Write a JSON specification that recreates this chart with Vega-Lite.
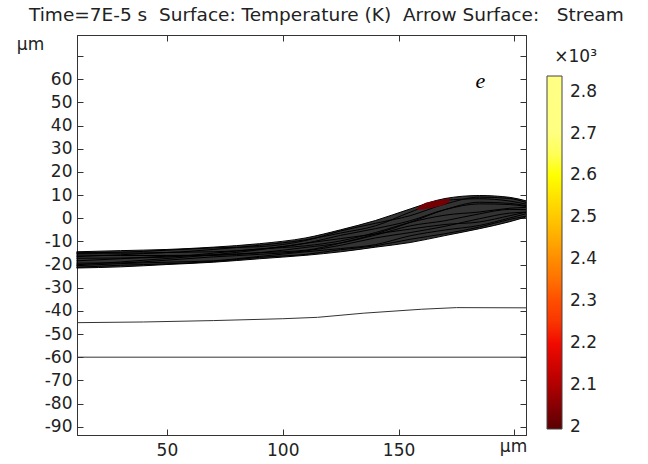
{
  "$schema": "https://vega.github.io/schema/vega-lite/v6.json",
  "width": 449,
  "height": 400,
  "autosize": {"type": "none"},
  "padding": {"left": 77, "top": 35, "right": 122, "bottom": 29},
  "background": "white",
  "title": {
    "text": "Time=7E-5 s\u00a0\u00a0Surface: Temperature (K)\u00a0\u00a0Arrow Surface:\u00a0\u00a0\u00a0Stream",
    "anchor": "start",
    "frame": "group",
    "dx": -48,
    "offset": -9,
    "baseline": "bottom",
    "font": "DejaVu Sans",
    "fontSize": 18.5,
    "fontWeight": "normal",
    "color": "#222"
  },
  "datasets": {
    "band": [
      {"x": 11, "y": -21.5, "y2": -14.5},
      {"x": 30, "y": -21, "y2": -14},
      {"x": 50, "y": -20, "y2": -13.5},
      {"x": 70, "y": -19, "y2": -12.5},
      {"x": 90, "y": -17.5, "y2": -11},
      {"x": 110, "y": -16, "y2": -8.5},
      {"x": 125, "y": -14.5, "y2": -5},
      {"x": 140, "y": -12.5, "y2": -1},
      {"x": 155, "y": -10.5, "y2": 4},
      {"x": 170, "y": -7.5, "y2": 8.5},
      {"x": 185, "y": -4.5, "y2": 9.8},
      {"x": 198, "y": -1.5, "y2": 9},
      {"x": 205, "y": 0.5, "y2": 7.5}
    ],
    "streams": [
      {"s": "a", "x": 11, "y": -14.5}, {"s": "a", "x": 30, "y": -14}, {"s": "a", "x": 50, "y": -13.5}, {"s": "a", "x": 70, "y": -12.5}, {"s": "a", "x": 90, "y": -11}, {"s": "a", "x": 110, "y": -8.5}, {"s": "a", "x": 125, "y": -5}, {"s": "a", "x": 140, "y": -1}, {"s": "a", "x": 155, "y": 4}, {"s": "a", "x": 170, "y": 8.5}, {"s": "a", "x": 185, "y": 9.8}, {"s": "a", "x": 198, "y": 9}, {"s": "a", "x": 205, "y": 7.5},
      {"s": "b", "x": 11, "y": -21.5}, {"s": "b", "x": 30, "y": -21}, {"s": "b", "x": 50, "y": -20}, {"s": "b", "x": 70, "y": -19}, {"s": "b", "x": 90, "y": -17.5}, {"s": "b", "x": 110, "y": -16}, {"s": "b", "x": 125, "y": -14.5}, {"s": "b", "x": 140, "y": -12.5}, {"s": "b", "x": 155, "y": -10.5}, {"s": "b", "x": 170, "y": -7.5}, {"s": "b", "x": 185, "y": -4.5}, {"s": "b", "x": 198, "y": -1.5}, {"s": "b", "x": 205, "y": 0.5},
      {"s": "c", "x": 11, "y": -15.2}, {"s": "c", "x": 30, "y": -15.1}, {"s": "c", "x": 50, "y": -14.8}, {"s": "c", "x": 70, "y": -13.5}, {"s": "c", "x": 90, "y": -11.7}, {"s": "c", "x": 110, "y": -9.3}, {"s": "c", "x": 125, "y": -6.4}, {"s": "c", "x": 140, "y": -3.3}, {"s": "c", "x": 155, "y": 2.6}, {"s": "c", "x": 170, "y": 7.7}, {"s": "c", "x": 185, "y": 8.4}, {"s": "c", "x": 198, "y": 7.4}, {"s": "c", "x": 205, "y": 6.1},
      {"s": "d", "x": 11, "y": -16.6}, {"s": "d", "x": 30, "y": -15.8}, {"s": "d", "x": 50, "y": -14.8}, {"s": "d", "x": 70, "y": -14.5}, {"s": "d", "x": 90, "y": -13.3}, {"s": "d", "x": 110, "y": -10.8}, {"s": "d", "x": 125, "y": -7.4}, {"s": "d", "x": 140, "y": -4.5}, {"s": "d", "x": 155, "y": -1.1}, {"s": "d", "x": 170, "y": 3.7}, {"s": "d", "x": 185, "y": 6.2}, {"s": "d", "x": 198, "y": 5.9}, {"s": "d", "x": 205, "y": 5.1},
      {"s": "e", "x": 11, "y": -17.3}, {"s": "e", "x": 30, "y": -17.2}, {"s": "e", "x": 50, "y": -16.8}, {"s": "e", "x": 70, "y": -15.1}, {"s": "e", "x": 90, "y": -13.3}, {"s": "e", "x": 110, "y": -11.9}, {"s": "e", "x": 125, "y": -9.8}, {"s": "e", "x": 140, "y": -6.2}, {"s": "e", "x": 155, "y": -1.8}, {"s": "e", "x": 170, "y": 1.3}, {"s": "e", "x": 185, "y": 2.7}, {"s": "e", "x": 198, "y": 4.3}, {"s": "e", "x": 205, "y": 4.7},
      {"s": "f", "x": 11, "y": -18.4}, {"s": "f", "x": 30, "y": -17.5}, {"s": "f", "x": 50, "y": -16.4}, {"s": "f", "x": 70, "y": -16.1}, {"s": "f", "x": 90, "y": -14.9}, {"s": "f", "x": 110, "y": -12.6}, {"s": "f", "x": 125, "y": -10.7}, {"s": "f", "x": 140, "y": -7.3}, {"s": "f", "x": 155, "y": -3.3}, {"s": "f", "x": 170, "y": -1.1}, {"s": "f", "x": 185, "y": 1.9}, {"s": "f", "x": 198, "y": 3.8}, {"s": "f", "x": 205, "y": 3.7},
      {"s": "g", "x": 11, "y": -19.4}, {"s": "g", "x": 30, "y": -19.3}, {"s": "g", "x": 50, "y": -18.1}, {"s": "g", "x": 70, "y": -16.7}, {"s": "g", "x": 90, "y": -15.6}, {"s": "g", "x": 110, "y": -14.1}, {"s": "g", "x": 125, "y": -11.7}, {"s": "g", "x": 140, "y": -8.5}, {"s": "g", "x": 155, "y": -6.2}, {"s": "g", "x": 170, "y": -3.5}, {"s": "g", "x": 185, "y": -0.2}, {"s": "g", "x": 198, "y": 2.2}, {"s": "g", "x": 205, "y": 2.6},
      {"s": "h", "x": 11, "y": -20.5}, {"s": "h", "x": 30, "y": -19.6}, {"s": "h", "x": 50, "y": -19.0}, {"s": "h", "x": 70, "y": -18.4}, {"s": "h", "x": 90, "y": -16.5}, {"s": "h", "x": 110, "y": -14.5}, {"s": "h", "x": 125, "y": -13.1}, {"s": "h", "x": 140, "y": -11.4}, {"s": "h", "x": 155, "y": -7.6}, {"s": "h", "x": 170, "y": -5.1}, {"s": "h", "x": 185, "y": -3.1}, {"s": "h", "x": 198, "y": 0.1}, {"s": "h", "x": 205, "y": 1.9},
      {"s": "i", "x": 11, "y": -15.9}, {"s": "i", "x": 30, "y": -16.1}, {"s": "i", "x": 50, "y": -16.1}, {"s": "i", "x": 70, "y": -15.8}, {"s": "i", "x": 90, "y": -14.9}, {"s": "i", "x": 110, "y": -13.8}, {"s": "i", "x": 125, "y": -10.7}, {"s": "i", "x": 140, "y": -6.8}, {"s": "i", "x": 155, "y": -1.8}, {"s": "i", "x": 170, "y": 3.7}, {"s": "i", "x": 185, "y": 6.9}, {"s": "i", "x": 198, "y": 6.4}, {"s": "i", "x": 205, "y": 5.4},
      {"s": "j", "x": 11, "y": -20.1}, {"s": "j", "x": 30, "y": -18.9}, {"s": "j", "x": 50, "y": -17.4}, {"s": "j", "x": 70, "y": -15.8}, {"s": "j", "x": 90, "y": -13.6}, {"s": "j", "x": 110, "y": -10.8}, {"s": "j", "x": 125, "y": -8.8}, {"s": "j", "x": 140, "y": -6.8}, {"s": "j", "x": 155, "y": -4.7}, {"s": "j", "x": 170, "y": -2.7}, {"s": "j", "x": 185, "y": -1.6}, {"s": "j", "x": 198, "y": 1.1}, {"s": "j", "x": 205, "y": 2.6},
      {"s": "k", "x": 11, "y": -14.9}, {"s": "k", "x": 30, "y": -14.7}, {"s": "k", "x": 50, "y": -13.8}, {"s": "k", "x": 70, "y": -12.8}, {"s": "k", "x": 90, "y": -12.3}, {"s": "k", "x": 110, "y": -9.6}, {"s": "k", "x": 125, "y": -5.5}, {"s": "k", "x": 140, "y": -2.2}, {"s": "k", "x": 155, "y": 1.1}, {"s": "k", "x": 170, "y": 6.1}, {"s": "k", "x": 185, "y": 9.1}, {"s": "k", "x": 198, "y": 8.5}, {"s": "k", "x": 205, "y": 6.8},
      {"s": "l", "x": 11, "y": -21.2}, {"s": "l", "x": 30, "y": -20.3}, {"s": "l", "x": 50, "y": -19.7}, {"s": "l", "x": 70, "y": -18.7}, {"s": "l", "x": 90, "y": -16.9}, {"s": "l", "x": 110, "y": -15.6}, {"s": "l", "x": 125, "y": -13.6}, {"s": "l", "x": 140, "y": -11.9}, {"s": "l", "x": 155, "y": -9.1}, {"s": "l", "x": 170, "y": -6.7}, {"s": "l", "x": 185, "y": -3.8}, {"s": "l", "x": 198, "y": -0.5}, {"s": "l", "x": 205, "y": 0.9}
    ],
    "patch": [
      {"x": 158, "y": 3.6, "y2": 4.4, "T": 2030},
      {"x": 161, "y": 3.9, "y2": 6.3, "T": 2030},
      {"x": 165, "y": 4.6, "y2": 7.4, "T": 2030},
      {"x": 169, "y": 5.6, "y2": 8.1, "T": 2030},
      {"x": 172, "y": 7.0, "y2": 8.4, "T": 2030}
    ],
    "bounds": [
      {"b": "interface", "x": 11.2, "y": -45.1},
      {"b": "interface", "x": 40, "y": -44.8},
      {"b": "interface", "x": 70, "y": -44.2},
      {"b": "interface", "x": 100, "y": -43.4},
      {"b": "interface", "x": 115, "y": -42.8},
      {"b": "interface", "x": 135, "y": -41.0},
      {"b": "interface", "x": 160, "y": -39.3},
      {"b": "interface", "x": 175, "y": -38.6},
      {"b": "interface", "x": 205, "y": -38.7},
      {"b": "base", "x": 11.2, "y": -60},
      {"b": "base", "x": 205, "y": -60}
    ],
    "note": [
      {"x": 185.3, "y": 59.2, "label": "e"}
    ]
  },
  "layer": [
    {
      "data": {"name": "band"},
      "mark": {"type": "area", "color": "black", "opacity": 0.8, "interpolate": "monotone"},
      "encoding": {
        "x": {
          "field": "x", "type": "quantitative",
          "scale": {"domain": [11.2, 205], "nice": false, "zero": false},
          "axis": {
            "orient": "bottom",
            "values": [50, 100, 150, 200],
            "tickSize": -6,
            "tickColor": "#333",
            "domainColor": "#333",
            "grid": false,
            "labelFont": "DejaVu Sans",
            "labelFontSize": 17,
            "labelColor": "#222",
            "labelPadding": 13,
            "labelFlush": false,
            "labelOverlap": false,
            "labelExpr": "datum.value == 200 ? '' : '' + datum.value",
            "title": "μm",
            "titleFont": "DejaVu Sans",
            "titleFontSize": 17,
            "titleFontWeight": "normal",
            "titleColor": "#222",
            "titleX": 436,
            "titleY": 3,
            "titleAlign": "center",
            "titleBaseline": "top"
          }
        },
        "y": {
          "field": "y", "type": "quantitative",
          "scale": {"domain": [-93.6, 79.1], "nice": false, "zero": false},
          "axis": {
            "orient": "left",
            "values": [-90, -80, -70, -60, -50, -40, -30, -20, -10, 0, 10, 20, 30, 40, 50, 60, 70],
            "tickSize": -6,
            "tickColor": "#333",
            "domainColor": "#333",
            "grid": false,
            "labelFont": "DejaVu Sans",
            "labelFontSize": 17,
            "labelColor": "#222",
            "labelPadding": 11,
            "labelFlush": false,
            "labelOverlap": false,
            "labelExpr": "datum.value == 70 ? '' : '' + datum.value",
            "title": "μm",
            "titleFont": "DejaVu Sans",
            "titleFontSize": 17,
            "titleFontWeight": "normal",
            "titleColor": "#222",
            "titleAngle": 0,
            "titleX": -47,
            "titleY": 9,
            "titleAlign": "center",
            "titleBaseline": "middle"
          }
        },
        "y2": {"field": "y2"}
      }
    },
    {
      "data": {"name": "streams"},
      "mark": {"type": "line", "color": "black", "strokeWidth": 1, "interpolate": "monotone"},
      "encoding": {
        "x": {
          "field": "x", "type": "quantitative",
          "scale": {"domain": [11.2, 205], "nice": false, "zero": false},
          "axis": {"orient": "top", "values": [50, 100, 150, 200], "tickSize": -6, "tickColor": "#333", "domainColor": "#333", "grid": false, "labels": false, "title": null}
        },
        "y": {
          "field": "y", "type": "quantitative",
          "scale": {"domain": [-93.6, 79.1], "nice": false, "zero": false},
          "axis": {"orient": "right", "values": [-90, -80, -70, -60, -50, -40, -30, -20, -10, 0, 10, 20, 30, 40, 50, 60, 70], "tickSize": -6, "tickColor": "#333", "domainColor": "#333", "grid": false, "labels": false, "title": null}
        },
        "detail": {"field": "s"}
      }
    },
    {
      "data": {"name": "patch"},
      "mark": {"type": "area", "opacity": 1, "interpolate": "monotone"},
      "encoding": {
        "x": {"field": "x", "type": "quantitative", "scale": {"domain": [11.2, 205], "nice": false, "zero": false}, "axis": null},
        "y": {"field": "y", "type": "quantitative", "scale": {"domain": [-93.6, 79.1], "nice": false, "zero": false}, "axis": null},
        "y2": {"field": "y2"},
        "color": {
          "field": "T", "type": "quantitative",
          "scale": {
            "domain": [1996, 2100, 2200, 2300, 2400, 2500, 2600, 2700, 2837],
            "range": ["#5a0000", "#b00000", "#f20a00", "#ff4d00", "#ff8c00", "#ffc800", "#ffff00", "#ffff80", "#ffffff"]
          },
          "legend": {
            "orient": "none",
            "legendX": 470,
            "legendY": 14,
            "direction": "vertical",
            "padding": 0,
            "gradientLength": 353,
            "gradientThickness": 15,
            "gradientStrokeColor": "#444",
            "gradientStrokeWidth": 1,
            "values": [2000, 2100, 2200, 2300, 2400, 2500, 2600, 2700, 2800],
            "labelExpr": "format(datum.value / 1000, '.1~f')",
            "labelFont": "DejaVu Sans",
            "labelFontSize": 17,
            "labelColor": "#222",
            "labelOffset": 8,
            "labelBaseline": "middle",
            "labelOverlap": false,
            "title": "×10³",
            "titleAnchor": "end",
            "titleAlign": "right",
            "titleFont": "DejaVu Sans",
            "titleFontSize": 17,
            "titleFontWeight": "normal",
            "titleColor": "#222",
            "titlePadding": 10
          }
        }
      }
    },
    {
      "data": {"name": "bounds"},
      "mark": {"type": "line", "color": "#333", "strokeWidth": 1},
      "encoding": {
        "x": {"field": "x", "type": "quantitative", "scale": {"domain": [11.2, 205], "nice": false, "zero": false}, "axis": null},
        "y": {"field": "y", "type": "quantitative", "scale": {"domain": [-93.6, 79.1], "nice": false, "zero": false}, "axis": null},
        "detail": {"field": "b"}
      }
    },
    {
      "data": {"name": "note"},
      "mark": {"type": "text", "font": "Liberation Serif", "fontStyle": "italic", "fontSize": 22, "color": "black", "align": "center", "baseline": "middle"},
      "encoding": {
        "x": {"field": "x", "type": "quantitative", "scale": {"domain": [11.2, 205], "nice": false, "zero": false}, "axis": null},
        "y": {"field": "y", "type": "quantitative", "scale": {"domain": [-93.6, 79.1], "nice": false, "zero": false}, "axis": null},
        "text": {"field": "label"}
      }
    }
  ],
  "resolve": {"axis": {"x": "independent", "y": "independent"}},
  "config": {
    "view": {"stroke": "#333", "strokeWidth": 1},
    "font": "DejaVu Sans"
  }
}
